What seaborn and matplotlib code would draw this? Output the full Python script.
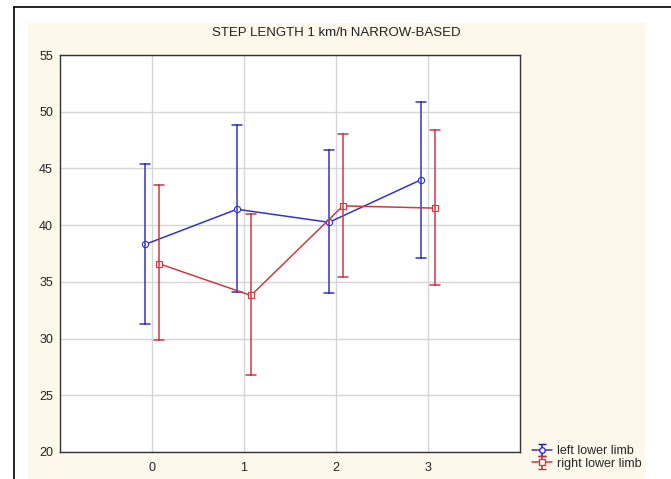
import numpy as np
import pandas as pd
import seaborn as sns
import matplotlib.pyplot as plt
import matplotlib.colors as mcolors
from matplotlib.lines import Line2D

# values: mean, lower and upper whisker
groups = [0, 1, 2, 3]
left_mean = [38.3, 41.4, 40.25, 44.0]
left_low = [31.3, 34.1, 34.0, 37.1]
left_high = [45.4, 48.8, 46.6, 50.85]
right_mean = [36.6, 33.8, 41.7, 41.5]
right_low = [29.9, 26.8, 35.4, 34.7]
right_high = [43.5, 40.95, 48.0, 48.4]
limbs = ["left lower limb", "right lower limb"]

# long table: 3 rows per point (low, mean, high), median -> mean, min/max -> bars
rows = []
for limb, m, lo, hi in [(limbs[0], left_mean, left_low, left_high),
                        (limbs[1], right_mean, right_low, right_high)]:
    for g, a, b, c in zip(groups, lo, m, hi):
        for v in (a, b, c):
            rows.append({"group": g, "limb": limb, "value": v})
df = pd.DataFrame(rows)

sns.set_style("white")
plt.rcParams["font.family"] = ["Liberation Sans", "DejaVu Sans"]

line_cols = ["#3333c8", "#cc3a44"]
err_cols = ["#1e1e8a", "#b8323c"]

fig = plt.figure(figsize=(6.71, 4.79), dpi=100)
fig.patch.set_facecolor("white")

# cream panel of the original screenshot
bg = fig.add_axes([28 / 671, 0, (645 - 28) / 671, 1 - 23 / 479], zorder=0)
bg.set_facecolor("#fcf8ec")
bg.set_xticks([])
bg.set_yticks([])
for s in bg.spines.values():
    s.set_visible(False)

# black frame edges
fig.lines.append(Line2D([14 / 671, 14 / 671], [0, 1 - 7 / 479], transform=fig.transFigure,
                        color="black", lw=1.2))
fig.lines.append(Line2D([14 / 671, 1], [1 - 7 / 479, 1 - 7 / 479], transform=fig.transFigure,
                        color="black", lw=1.2))

ax = fig.add_axes([60 / 671, 1 - 452 / 479, (520 - 60) / 671, (452 - 55) / 479], zorder=2)
ax.set_facecolor("white")

sns.pointplot(data=df, x="group", y="value", hue="limb", hue_order=limbs,
              palette=line_cols, estimator="median",
              errorbar=lambda v: (v.min(), v.max()),
              dodge=0.152, capsize=0.1, markers=["o", "s"],
              markersize=4.5, linewidth=1.1, err_kws={"linewidth": 1.1},
              legend=False, ax=ax)

# open markers, darker error bars
for ln in ax.lines:
    ln.set_markerfacecolor("white")
    c = mcolors.to_hex(ln.get_color())
    if len(ln.get_xdata()) <= 2:
        for lc, ec in zip(line_cols, err_cols):
            if c == lc:
                ln.set_color(ec)

ax.set_xlim(-1, 4)
ax.set_ylim(20, 55)
ax.set_yticks(np.arange(20, 56, 5))
ax.set_xticks(groups)
ax.set_xticklabels([str(g) for g in groups])
ax.grid(True, color="#d6d6d6", lw=1)
ax.set_axisbelow(True)
for s in ax.spines.values():
    s.set_color("#333333")
    s.set_linewidth(1)
ax.tick_params(length=0, labelsize=9, pad=5, colors="#222222")
ax.tick_params(axis="x", pad=7)
ax.set_xlabel("")
ax.set_ylabel("")

fig.text(336 / 671, 1 - 33 / 479, "STEP LENGTH 1 km/h NARROW-BASED",
         ha="center", va="center", fontsize=9.5, color="#222222")

handles = []
for lc, ec, mk in zip(line_cols, err_cols, ["o", "s"]):
    h = ax.errorbar([np.nan], [np.nan], yerr=[1], fmt="-" + mk, color=lc, ecolor=ec,
                    mfc="white", ms=4, lw=1.1, capsize=3)
    handles.append(h)
leg = fig.legend(handles, limbs, loc="lower left", bbox_to_anchor=(526 / 671, 3 / 479),
                 frameon=False, fontsize=9, handlelength=1.6, handletextpad=0.4,
                 labelspacing=0.05, borderpad=0)
leg.set_zorder(5)

fig.savefig("out.png", dpi=100)
